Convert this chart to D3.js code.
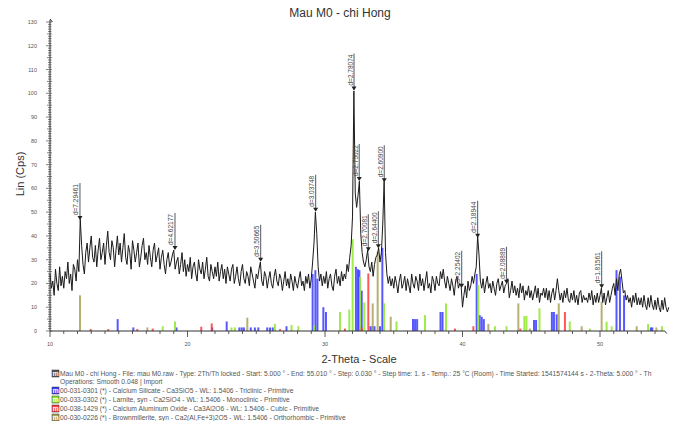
<!DOCTYPE html>
<html>
<head>
<meta charset="utf-8">
<script src="https://cdn.jsdelivr.net/npm/d3@7"></script>
<style>
  body { margin: 0; background: #fff; }
  svg { display: block; font-family: "Liberation Sans", Arial, sans-serif; }
</style>
</head>
<body>
<div id="chart"></div>
<script>
// scan: 10.0 .. 55.0 deg, step 0.1 (one row per degree)
const thetaStart = 10;
const thetaStep = 0.1;
const counts = [
  24,18,21,15,26,20,17,27,19,23,
  18,25,22,29,20,24,17,28,26,21,
  30,25,47,36,28,24,33,37,29,35,
  40,31,29,36,27,34,39,30,33,37,
  28,36,42,33,30,38,35,27,34,40,
  32,37,29,35,41,31,28,36,33,26,
  38,34,29,33,37,27,31,36,39,30,
  33,28,36,31,27,34,37,29,32,35,
  26,31,34,28,24,30,33,27,29,32,
  34,26,29,31,24,28,33,25,30,23,
  28,25,31,22,27,29,24,21,30,26,
  24,29,22,26,31,23,21,28,25,22,
  27,23,29,21,25,28,22,26,20,27,
  24,21,26,28,20,23,27,22,19,25,
  28,22,20,25,23,19,27,24,21,18,
  24,22,26,29,21,19,25,23,18,22,
  25,20,18,23,26,21,19,24,22,17,
  21,25,19,22,18,24,21,17,23,20,
  18,22,25,19,21,17,23,20,24,18,
  22,29,37,50,41,27,21,24,19,23,
  20,25,18,22,24,19,17,23,26,20,
  23,19,25,21,24,22,28,25,31,36,
  48,101,58,52,57,63,41,33,29,27,
  30,34,27,25,29,23,28,31,32,35,
  29,33,45,63,33,24,20,23,19,22,
  18,23,20,16,21,24,18,20,23,17,
  22,19,16,24,20,18,23,21,17,24,
  19,22,17,21,25,18,20,16,23,21,
  17,23,20,19,25,22,26,21,18,23,
  20,17,22,19,15,21,23,18,20,19,
  10,15,19,14,21,17,19,23,20,24,
  27,40,32,21,18,22,16,20,23,18,
  20,16,21,18,15,20,22,17,19,21,
  16,19,20,22,14,17,21,16,19,15,
  18,14,20,16,19,13,17,15,19,14,
  17,13,16,19,14,18,12,16,15,18,
  14,18,13,17,12,16,18,13,17,22,
  17,13,16,12,17,14,18,13,12,16,
  13,17,12,15,11,16,17,12,15,13,
  14,12,16,13,17,11,15,12,16,12,
  15,18,12,16,11,14,17,12,15,18,
  20,15,22,17,24,26,21,16,17,13,
  15,12,14,10,15,12,16,11,14,11,
  14,10,15,11,9,14,10,15,11,9,
  13,9,14,10,8,13,9,14,10,8,
  10
];

// peak search labels
const peakTheta  = [12.18, 19.09, 25.32, 29.32, 32.11, 32.49, 33.15, 33.88, 34.31, 39.94, 41.10, 43.20, 50.12];
const peakCounts = [47.1, 34.5, 29.6, 50.6, 101.6, 63.5, 34.0, 35.2, 63.0, 18.6, 39.7, 20.3, 18.4];
const peakLabels = ['d=7.29461', 'd=4.62177', 'd=3.50665', 'd=3.03748', 'd=2.78074', 'd=2.75022',
                    'd=2.70081', 'd=2.64400', 'd=2.60900', 'd=2.25402', 'd=2.18944', 'd=2.08889', 'd=1.81561'];

// reference patterns: [2theta, height]
const c3sSticks = [
  [14.92,5],[16.06,1.5],[19.2,1.5],[21.8,1.5],[22.85,4],[23.77,1.5],[23.94,1.5],[24.1,1.5],
  [24.6,1.5],[24.9,1.5],[25.15,1.5],[25.8,1.5],[26.0,1.5],[26.2,1.5],[27.2,2],
  [29.1,24],[29.3,25.6],[29.45,22],[29.88,10],[30.07,8],[32.25,27],[32.4,26],[32.5,25.6],
  [32.67,17],[33.3,2],[33.45,2],[33.6,2],[34.0,2],[34.17,35],[36.4,5],[36.55,5],[36.7,5],
  [38.4,8],[38.55,8],[41.03,24],[41.25,6.7],[41.4,6],[41.55,5],[45.2,4.6],[45.35,4.6],
  [46.5,8],[46.65,8],[46.85,7],[51.2,25.6],[51.45,22.8],[51.75,15],[53.7,1.5],[53.8,1.5]
];
const c2sSticks = [
  [18.2,2],[19.09,4],[23.2,1.5],[23.45,1.5],[26.36,3],[27.57,2.5],[28.06,2],[29.2,2.5],
  [31.09,8],[31.77,9],[32.01,38.6],[32.55,22.8],[32.86,12],[34.29,11.7],[35.2,4],
  [37.27,6.7],[38.8,11.6],[41.15,19.3],[42.36,2],[43.2,2],[44.5,6.3],[44.65,6.3],
  [45.6,9.5],[47.8,4],[49.27,1],[50.48,3.9],[50.85,2],[53.5,3],[54.5,2]
];
const c3aSticks = [
  [12.96,0.8],[14.24,0.8],[16.35,0.8],[17.47,1],[21.0,1.8],[21.76,3.2],[26.73,0.8],
  [31.45,1],[32.67,1.5],[33.15,24.2],[39.45,1],[40.79,2],[44.2,1],[47.45,8]
];
const c4afSticks = [
  [12.18,15],[17.08,1.5],[24.35,5.6],[33.47,11.6],[33.83,33.3],[34.78,6],[41.88,3],
  [44.06,11.6],[44.9,1],[47.0,11.6],[48.67,2],[50.12,12.3],[52.67,2],[54.1,1.5]
];

const phaseNames = [
  '00-031-0301 (*) - Calcium Silicate - Ca3SiO5 - WL: 1.5406 - Triclinic - Primitive',
  '00-033-0302 (*) - Larnite, syn - Ca2SiO4 - WL: 1.5406 - Monoclinic - Primitive',
  '00-038-1429 (*) - Calcium Aluminum Oxide - Ca3Al2O6 - WL: 1.5406 - Cubic - Primitive',
  '00-030-0226 (*) - Brownmillerite, syn - Ca2(Al,Fe+3)2O5 - WL: 1.5406 - Orthorhombic - Primitive'
];
const scanInfo = 'Mau M0 - chi Hong - File: mau M0.raw - Type: 2Th/Th locked - Start: 5.000 \u00b0 - End: 55.010 \u00b0 - Step: 0.030 \u00b0 - Step time: 1. s - Temp.: 25 \u00b0C (Room) - Time Started: 1541574144 s - 2-Theta: 5.000 \u00b0 - Th';
const scanOps = 'Operations: Smooth 0.048 | Import';

const width = 677, height = 421;
const phaseColors = ['#3b3bff', '#8fe82a', '#ff3a3a', '#aaa45a'];

const svg = d3.select('#chart').append('svg')
  .attr('width', width).attr('height', height);

const x = d3.scaleLinear().domain([10, 55]).range([50, 668.75]);
const y = d3.scaleLinear().domain([0, 130]).range([331, 22]);

// title + axis titles
svg.append('text').attr('x', 340).attr('y', 17).attr('text-anchor', 'middle')
  .style('font-size', '12px').style('fill', '#333').text('Mau M0 - chi Hong');
svg.append('text').attr('transform', 'translate(24,174) rotate(-90)').attr('text-anchor', 'middle')
  .style('font-size', '11px').style('fill', '#333').text('Lin (Cps)');
svg.append('text').attr('x', 359).attr('y', 363).attr('text-anchor', 'middle')
  .style('font-size', '11px').style('fill', '#333').text('2-Theta - Scale');

// stick patterns
const sticks = [c3sSticks, c2sSticks, c3aSticks, c4afSticks];
sticks.forEach((list, i) => {
  svg.append('g').selectAll('line').data(list).enter().append('line')
    .attr('x1', d => x(d[0])).attr('x2', d => x(d[0]))
    .attr('y1', y(0)).attr('y2', d => y(d[1]))
    .attr('stroke', phaseColors[i]).attr('stroke-width', 2).attr('opacity', 0.85);
});

// scan line
const scan = counts.map((c, i) => [thetaStart + i * thetaStep, c]);
svg.append('path').datum(scan)
  .attr('fill', 'none').attr('stroke', '#1a1a1a').attr('stroke-width', 1)
  .attr('d', d3.line().x(d => x(d[0])).y(d => y(d[1])));

// peak labels
const peaks = peakTheta.map((t, i) => ({ t, c: peakCounts[i], label: peakLabels[i] }));
const pg = svg.append('g').selectAll('g').data(peaks).enter().append('g');
pg.append('line')
  .attr('x1', d => x(d.t)).attr('x2', d => x(d.t))
  .attr('y1', d => y(d.c) - 36).attr('y2', d => y(d.c))
  .attr('stroke', '#666').attr('stroke-width', 1.1);
pg.append('path')
  .attr('d', d => `M${x(d.t) - 2.5},${y(d.c) - 3}L${x(d.t) + 2.5},${y(d.c) - 3}L${x(d.t)},${y(d.c) + 1}Z`)
  .attr('fill', '#222');
pg.append('text')
  .attr('transform', d => `translate(${x(d.t) - 1.5},${y(d.c) - 4}) rotate(-90)`)
  .style('font-size', '6.5px').style('fill', '#444')
  .text(d => d.label);

// y axis
const ya = svg.append('g').attr('stroke', '#333');
ya.append('line').attr('x1', x(10)).attr('x2', x(10)).attr('y1', y(0)).attr('y2', y(130) - 2);
ya.append('path').attr('d', `M${x(10)},${y(130) - 3}l2.5,3`).attr('fill', 'none');
ya.selectAll('.mt').data(d3.range(0, 131, 1)).enter().append('line')
  .attr('x1', d => d % 10 === 0 ? x(10) - 4 : x(10) - (d % 5 === 0 ? 3 : 2))
  .attr('x2', d => x(10) + (d % 5 === 0 ? 2 : 1.5))
  .attr('y1', d => y(d)).attr('y2', d => y(d)).attr('stroke-width', 0.6);
svg.append('g').selectAll('text').data(d3.range(0, 131, 10)).enter().append('text')
  .attr('x', 37).attr('y', d => y(d) + 2).attr('text-anchor', 'end')
  .style('font-size', '5.5px').style('fill', '#555').text(d => d);

// x axis
const xa = svg.append('g').attr('stroke', '#333');
xa.append('line').attr('x1', x(10)).attr('x2', x(55) - 4).attr('y1', y(0)).attr('y2', y(0));
xa.append('path').attr('d', `M${x(55) - 4},${y(0)}l2,2.5`).attr('fill', 'none');
xa.selectAll('.xt').data(d3.range(10, 55, 1)).enter().append('line')
  .attr('x1', d => x(d)).attr('x2', d => x(d))
  .attr('y1', y(0)).attr('y2', d => y(0) + (d % 10 === 0 ? 6 : 3)).attr('stroke-width', 0.8);
svg.append('g').selectAll('text').data(d3.range(10, 55, 10)).enter().append('text')
  .attr('x', d => x(d)).attr('y', 346).attr('text-anchor', 'middle')
  .style('font-size', '5.5px').style('fill', '#555').text(d => d);

// legend
const leg = svg.append('g').style('font-size', '6.7px').style('fill', '#555');
const iconAt = (yy, col) => {
  const g = svg.append('g');
  g.append('rect').attr('x', 52).attr('y', yy - 6).attr('width', 7).attr('height', 7)
    .attr('fill', col).attr('stroke', '#333').attr('stroke-width', 0.5);
  g.append('text').attr('x', 55.5).attr('y', yy).attr('text-anchor', 'middle')
    .style('font-size', '7px').style('font-weight', 'bold').style('fill', '#fff').text('m');
};
iconAt(376, '#555');
leg.append('text').attr('x', 60).attr('y', 376).text(scanInfo);
leg.append('text').attr('x', 60).attr('y', 384).text(scanOps);
phaseNames.forEach((n, i) => {
  const yy = 393 + i * 9;
  iconAt(yy, phaseColors[i]);
  leg.append('text').attr('x', 60).attr('y', yy).text(n);
});
</script>
</body>
</html>
